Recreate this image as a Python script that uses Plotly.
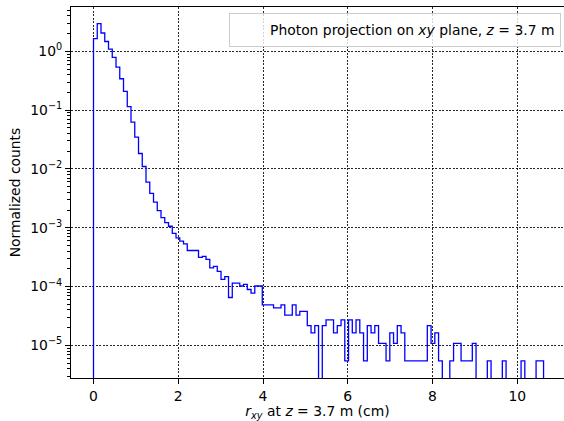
import numpy as np
import plotly.graph_objects as go

# ---- data ----
n_bins = 120
bin_width = 0.0885  # cm

bin_values = [
    1.64, 2.95, 2.05, 1.47, 1.09, 0.787, 0.54, 0.342, 0.208, 0.115,
    0.0626, 0.0348, 0.0183, 0.011, 0.00598, 0.00384, 0.00272, 0.00196, 0.00149, 0.00122,
    0.00106, 8.0e-4, 6.7e-4, 5.9e-4, 5.3e-4, 4.1e-4, 4.1e-4, 4.1e-4, 3.13e-4, 3.25e-4,
    2.89e-4, 2.07e-4, 2.2e-4, 1.81e-4, 1.32e-4, 1.47e-4, 6.5e-5, 1.14e-4, 1.14e-4, 1.02e-4,
    1.09e-4, 8.9e-5, 7.7e-5, 1.02e-4, 1.02e-4, 4.88e-5, 4.88e-5, 4.88e-5, 4.34e-5, 4.34e-5,
    4.88e-5, 3.25e-5, 3.25e-5, 4.88e-5, 3.25e-5, 3.79e-5, 3.79e-5, 2.17e-5, 1.63e-5, 2.17e-5,
    0, 2.17e-5, 2.71e-5, 2.71e-5, 1.63e-5, 2.17e-5, 2.71e-5, 5.42e-6, 2.71e-5, 1.63e-5,
    2.71e-5, 1.63e-5, 5.42e-6, 2.17e-5, 1.63e-5, 2.17e-5, 1.08e-5, 1.08e-5, 5.42e-6, 1.63e-5,
    1.08e-5, 2.17e-5, 1.63e-5, 5.42e-6, 5.42e-6, 5.42e-6, 5.42e-6, 5.42e-6, 5.42e-6, 2.17e-5,
    1.08e-5, 1.63e-5, 5.42e-6, 0, 0, 5.42e-6, 1.08e-5, 1.08e-5, 5.42e-6, 5.42e-6,
    5.42e-6, 1.08e-5, 0, 0, 0, 5.42e-6, 0, 0, 0, 5.42e-6,
    0, 0, 0, 0, 5.42e-6, 0, 0, 0, 5.42e-6, 5.42e-6,
]

x_ticks = [0, 2, 4, 6, 8, 10]
y_tick_exponents = [-5, -4, -3, -2, -1, 0]
legend_label = "Photon projection on <i>xy</i> plane, <i>z</i> = 3.7 m"
x_label = "<i>r</i><sub><i>xy</i></sub> at <i>z</i> = 3.7 m (cm)"
y_label = "Normalized counts"

# ---- build step outline (matplotlib histtype='step' look) ----
edges = np.arange(n_bins + 1) * bin_width
vals = np.array(bin_values, dtype=float)
floor = 1e-12  # below the axis: empty bins drop off the plot
vals_plot = np.where(vals > 0, vals, floor)
xs = np.concatenate([[edges[0]], edges[:-1], [edges[-1], edges[-1]]])
ys = np.concatenate([[floor], vals_plot, [vals_plot[-1], floor]])

FONT = "DejaVu Sans"
fs = 13.9

fig = go.Figure()
fig.add_trace(go.Scatter(
    x=xs, y=ys, mode="lines",
    line=dict(color="#0000ff", width=1.3, shape="hv"),
    showlegend=False, hoverinfo="skip",
))
fig.add_trace(go.Scatter(
    x=[None], y=[None], mode="lines",
    line=dict(color="rgba(0,0,0,0)", width=0),
    name=legend_label, showlegend=True,
))

minor_vals = [m * 10.0 ** e for e in range(-7, 1) for m in range(2, 10)]

grid = dict(showgrid=True, gridcolor="rgba(0,0,0,0.85)", gridwidth=0.8, griddash="2px,1.5px")

fig.update_layout(
    width=564, height=421,
    margin=dict(l=71, r=0, t=7, b=43),
    paper_bgcolor="white", plot_bgcolor="white",
    font=dict(family=FONT, size=fs, color="black"),
    showlegend=True,
    legend=dict(
        x=(561 - 71) / 493, xanchor="right",
        y=(378 - 13) / 371, yanchor="top",
        bgcolor="rgba(255,255,255,0.8)", bordercolor="#cccccc", borderwidth=1,
        font=dict(family=FONT, size=fs),
        tracegroupgap=0,
    ),
    xaxis=dict(
        range=[-0.531, 11.102],
        tickmode="array", tickvals=x_ticks, ticktext=[str(t) for t in x_ticks],
        ticks="outside", ticklen=5, tickwidth=1, tickcolor="black",
        showline=True, linecolor="black", linewidth=1, mirror=True,
        zeroline=False,
        title=dict(text=x_label, standoff=4, font=dict(size=fs)),
        **grid,
    ),
    yaxis=dict(
        type="log", range=[-5.556, 0.754],
        tickmode="array",
        tickvals=[10.0 ** e for e in y_tick_exponents],
        ticktext=["10<sup>%s</sup>" % (str(e).replace("-", "\u2212")) for e in y_tick_exponents],
        ticks="outside", ticklen=5, tickwidth=1, tickcolor="black",
        minor=dict(tickvals=minor_vals, ticks="outside", ticklen=3, tickwidth=0.8,
                   tickcolor="black", showgrid=False),
        showline=True, linecolor="black", linewidth=1, mirror=False,
        zeroline=False,
        title=dict(text=y_label, standoff=6, font=dict(size=fs)),
        **grid,
    ),
)

fig.write_html("out.html")
